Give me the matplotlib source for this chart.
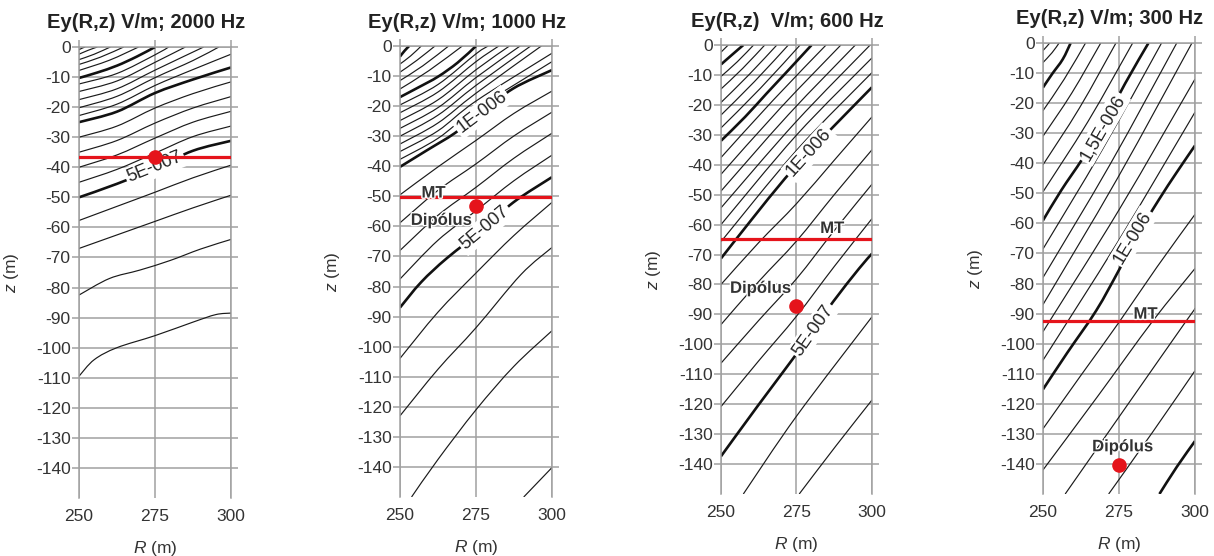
import numpy as np
import matplotlib
matplotlib.use("Agg")
import matplotlib.pyplot as plt
from matplotlib.path import Path
from matplotlib.patches import PathPatch
import matplotlib.patheffects as pe

plt.rcParams['font.family'] = ['Liberation Sans', 'DejaVu Sans']
plt.rcParams['mathtext.fontset'] = 'custom'
plt.rcParams['mathtext.it'] = 'Liberation Sans:italic'
plt.rcParams['mathtext.rm'] = 'Liberation Sans'
plt.rcParams['axes.unicode_minus'] = False

# --- adatok (leolvasva) ---
titles = ['Ey(R,z) V/m; 2000 Hz', 'Ey(R,z) V/m; 1000 Hz',
          'Ey(R,z)  V/m; 600 Hz', 'Ey(R,z) V/m; 300 Hz']
r_ticks = [250, 275, 300]
z_ticks = list(range(0, -150, -10))

# MT mélység és dipólus pont (R, z)
mt_depth = [-36.5, -50.2, -64.7, -92.6]
dipole = [(275, -36.5), (275, -53.3), (275, -87.2), (275, -140.4)]
mt_text = [None, (261, -48.9), (286.8, -61.3), (283.7, -90.2)]
dip_text = [None, (263.5, -58.0), (263.0, -81.3), (276.1, -134.3)]

# izovonalak: vékony és vastag vonalak pontjai (R, z)
thin_2000 = [
    [(250, -0.9), (251, -0.4), (252, 0)],
    [(250, -2.4), (253, -1.1), (256, 0)],
    [(250, -4.2), (255, -2.4), (260.3, 0)],
    [(250, -5.8), (257, -3.4), (264.7, 0)],
    [(250, -7.8), (260, -4.4), (269.6, 0)],
    [(250, -12.3), (262.5, -8.8), (275, -2.6), (279.5, 0)],
    [(250, -14.8), (262.5, -11.3), (275, -5.1), (285, 0)],
    [(250, -17.5), (262.5, -13.9), (275, -7.7), (291, 0)],
    [(250, -20.2), (262.5, -16.4), (275, -10.2), (287.5, -4.5), (296, 0)],
    [(250, -22.8), (262.5, -19.0), (275, -12.8), (287.5, -7.5), (300, -2.4)],
    [(250, -30.0), (262.5, -26.3), (275, -20.3), (287.5, -15.5), (300, -11.6)],
    [(250, -35.0), (262.5, -31.1), (275, -25.3), (287.5, -20.3), (300, -16.5)],
    [(250, -40.0), (262.5, -35.9), (275, -30.3), (287.5, -25.0), (300, -21.4)],
    [(250, -45.0), (262.5, -40.7), (275, -35.3), (287.5, -29.8), (300, -26.3)],
    [(250, -57.7), (262.5, -53.0), (275, -48.3), (287.5, -43.5), (300, -39.3)],
    [(250, -67.0), (262.5, -62.5), (275, -58.0), (287.5, -53.5), (300, -49.3)],
    [(250, -82.5), (260, -77.0), (270, -74.2), (280, -71), (290, -67.2), (300, -64.0)],
    [(250, -109.5), (255, -104.0), (262.5, -100.0), (275, -96.0),
     (287.5, -91.5), (295, -89.0), (300, -88.5)],
]
thick_2000 = [
    [(250, -10.3), (256, -8.5), (262.5, -6.2), (269, -3.2), (275, 0)],
    [(250, -25.0), (262.5, -21.5), (275, -15.3), (287.5, -10.8), (300, -6.8)],
    [(250, -50.0), (262.5, -45.5), (275, -40.3), (287.5, -34.5), (300, -31.2)],
]

thin_1000 = [
    [(250, -6.0), (253.5, -3.3), (257, 0)],
    [(250, -8.7), (255.5, -4.8), (261.5, 0)],
    [(250, -11.5), (257.5, -6.6), (266, 0)],
    [(250, -14.3), (259.5, -8.2), (270.5, 0)],
    [(250, -19.6), (262.5, -12.8), (275, -2.6), (279, 0)],
    [(250, -22.2), (262.5, -15.3), (275, -5.2), (282.5, 0)],
    [(250, -24.8), (262.5, -17.9), (275, -7.9), (286, 0)],
    [(250, -27.4), (262.5, -20.5), (275, -10.5), (289.5, 0)],
    [(250, -30.0), (262.5, -23.0), (275, -13.1), (293, 0)],
    [(250, -32.6), (262.5, -25.6), (275, -15.7), (296.5, 0)],
    [(250, -35.1), (262.5, -28.2), (275, -18.3), (300, -2.4)],
    [(250, -37.7), (262.5, -30.7), (275, -21.0), (300, -5.2)],
    [(250, -49.5), (262.5, -40.2), (275, -31.4), (287.5, -22.4), (300, -15.0)],
    [(250, -58.8), (262.5, -48.0), (275, -39.2), (287.5, -29.9), (300, -22.0)],
    [(250, -68.0), (262.5, -56.3), (275, -47.0), (287.5, -37.3), (300, -29.0)],
    [(250, -77.5), (262.5, -64.6), (275, -54.8), (287.5, -44.8), (300, -36.3)],
    [(250, -103.9), (262.5, -88.5), (275, -75.5), (287.5, -63.0), (300, -52.0)],
    [(250, -123.0), (262.5, -107.5), (275, -93.7), (289.8, -76.0), (300, -67.0)],
    [(253.8, -150), (262.5, -137.5), (275, -121.0), (287.5, -106.5), (300, -94.7)],
    [(290.7, -150), (300, -140.2)],
]
thick_1000 = [
    [(250, -3.5), (251.5, -1.6), (253, 0)],
    [(250, -17.0), (256, -13.8), (262.5, -10.2), (269, -5.5), (275, 0)],
    [(250, -40.2), (259, -34.6), (268, -29.0), (277, -22.0), (287.3, -14.1), (300, -8.0)],
    [(250, -87.0), (257, -78.5), (265.5, -70.5), (278, -60.5), (287.3, -52.0), (300, -43.6)],
]

thin_600 = [
    [(250, -2.4), (251.3, -1.1), (252.4, 0)],
    [(250, -10.5), (255.4, -5.6), (260.8, 0)],
    [(250, -14.7), (257.2, -7.8), (264.5, 0)],
    [(250, -19.2), (259.2, -10.0), (268.5, 0)],
    [(250, -23.4), (261.1, -12.2), (272.3, 0)],
    [(250, -27.7), (263.1, -14.4), (276.2, 0)],
    [(250, -37.6), (267.4, -18.3), (284.8, 0)],
    [(250, -43.2), (269.9, -20.8), (289.7, 0)],
    [(250, -48.8), (272.3, -23.3), (294.5, 0)],
    [(250, -54.4), (274.7, -25.8), (299.4, 0)],
    [(250, -60.0), (275, -30.1), (300, -4.3)],
    [(250, -65.7), (275, -35.2), (300, -9.2)],
    [(250, -80.0), (262.5, -66.0), (275, -53.0), (287.5, -38.5), (300, -24.0)],
    [(250, -93.4), (262.5, -79.0), (275, -65.5), (287.5, -50.0), (300, -35.0)],
    [(250, -106.3), (262.5, -92.0), (275, -78.1), (287.5, -62.0), (300, -46.5)],
    [(250, -120.8), (262.5, -105.5), (275, -90.6), (287.5, -74.0), (300, -58.0)],
    [(257.4, -150), (275, -124.0), (300, -90.8)],
    [(275.9, -150), (288, -134.0), (300, -118.6)],
]
thick_600 = [
    [(250, -6.5), (253.5, -3.4), (257.4, 0)],
    [(250, -32.0), (258, -24.0), (265, -16.3), (272.5, -8.2), (280, 0)],
    [(250, -71.3), (260, -58.5), (271.1, -44.7), (279.4, -35.5), (287.1, -27.4), (300, -14.1)],
    [(250, -137.4), (262, -120.8), (273.9, -104.7), (280.5, -95.3),
     (287.1, -85.8), (295.7, -74.7), (300, -69.7)],
]

thin_300 = [
    [(250, -2.5), (251.2, -1.2), (252.2, 0)],
    [(250, -6.5), (253, -3.2), (255.3, 0)],
    [(250, -22.5), (257, -12.0), (264, 0)],
    [(250, -31.0), (259.5, -16.6), (269, 0)],
    [(250, -40.5), (262, -21.6), (274, 0)],
    [(250, -49.5), (264.75, -26.2), (279.5, 0)],
    [(250, -68.5), (269.5, -35.5), (289, 0)],
    [(250, -78.0), (272, -40.5), (294, 0)],
    [(250, -87.0), (274.5, -45.0), (299, 0)],
    [(250, -96.0), (275, -55.5), (300, -12.0)],
    [(250, -105.5), (275, -65.5), (300, -23.0)],
    [(250, -128.3), (262.5, -110.5), (275.2, -92.6), (287.5, -74.5), (300, -57.0)],
    [(250, -142.0), (268, -117.5), (286, -92.6), (300, -75.0)],
    [(257.3, -150), (277, -121.5), (297, -92.6), (300, -88.5)],
    [(271.6, -150), (286, -129.5), (300, -109.0)],
]
thick_300 = [
    [(250, -14.8), (253, -10.3), (256.5, -5.4), (259.1, 0)],
    [(250, -59.0), (256, -49.0), (263, -38.5), (270, -27.0), (277, -13.5), (284.7, 0)],
    [(250, -115.2), (258, -103.0), (267.5, -89.0), (275, -75.5), (281, -64.0),
     (288, -52.3), (294, -43.0), (300, -34.1)],
    [(288.3, -150), (294, -141.0), (300, -132.4)],
]

# izovonal feliratok: (szöveg, R, z, szög)
labels_2000 = [('5E-007', 275, -40.0, 22)]
labels_1000 = [('1E-006', 277, -22.0, 37), ('5E-007', 278, -60.5, 40)]
labels_600 = [('1E-006', 279.2, -36.0, 48), ('5E-007', 280.5, -95.3, 55)]
labels_300 = [('1,5E-006', 269.6, -28.2, 60), ('1E-006', 279.6, -64.7, 59)]

thin_all = [thin_2000, thin_1000, thin_600, thin_300]
thick_all = [thick_2000, thick_1000, thick_600, thick_300]
labels_all = [labels_2000, labels_1000, labels_600, labels_300]

# axes helyek pixelben: bal, jobb, felső, alsó
W, H = 1214, 556
boxes = [(79, 231, 47, 498), (400, 552, 46, 497), (721, 872, 45, 494), (1043, 1195, 43, 494)]


def smooth(pts):
    # Catmull-Rom -> Bezier, hogy a vonal sima legyen a pontokon át
    p = np.asarray(pts, float)
    if len(p) == 2:
        return Path(p)
    verts = [p[0]]
    codes = [Path.MOVETO]
    n = len(p)
    for i in range(n - 1):
        p0 = p[i - 1] if i > 0 else p[i]
        p3 = p[i + 2] if i + 2 < n else p[i + 1]
        c1 = p[i] + (p[i + 1] - p0) / 6
        c2 = p[i + 1] - (p3 - p[i]) / 6
        verts += [c1, c2, p[i + 1]]
        codes += [Path.CURVE4] * 3
    return Path(verts, codes)


fig = plt.figure(figsize=(W / 100, H / 100), dpi=100)
grid_c = '#a0a0a0'
txt_c = '#333333'

for k in range(4):
    l, r, t, b = boxes[k]
    w, h = r - l, b - t
    ax = fig.add_axes([l / W, 1 - b / H, w / W, h / H])
    ax.set_xlim(250, 300)
    ax.set_ylim(-150, 0)
    ax.set_xticks(r_ticks)
    ax.set_yticks(z_ticks)
    ax.grid(True, color=grid_c, lw=1.1)
    for s in ['left', 'right', 'top']:
        ax.spines[s].set_color(grid_c)
        ax.spines[s].set_linewidth(1.1)
    ax.spines['bottom'].set_visible(False)
    ax.tick_params(axis='y', left=True, right=True, direction='out', length=5,
                   color=grid_c, width=1.1, labelsize=12.5, labelcolor=txt_c, pad=1)
    ax.tick_params(axis='x', bottom=False, top=True, direction='out', length=5,
                   color=grid_c, width=1.1, labelsize=12.5, labelcolor=txt_c, pad=3)
    ax.set_xlabel('$R$ (m)', fontsize=12.5, color=txt_c)
    ax.set_ylabel('$z$ (m)', fontsize=12.5, color=txt_c)
    ax.xaxis.set_label_coords(0.5, -41 / h)
    ax.yaxis.set_label_coords(-58 / w, 0.5)

    for line in thin_all[k]:
        ax.add_patch(PathPatch(smooth(line), fill=False, ec='#1a1a1a', lw=0.85, zorder=2))
    for line in thick_all[k]:
        ax.add_patch(PathPatch(smooth(line), fill=False, ec='#111111', lw=1.9, zorder=2))
    for txt, rr, zz, ang in labels_all[k]:
        ax.text(rr, zz, txt, rotation=ang, rotation_mode='anchor', ha='center', va='center',
                fontsize=13, color='#222222', zorder=3,
                bbox=dict(boxstyle='square,pad=0.12', fc='white', ec='none'))

    ax.axhline(mt_depth[k], color='#e5141b', lw=2.3, zorder=4)
    ax.plot(*dipole[k], 'o', color='#e5141b', ms=9.5, zorder=5)
    halo = [pe.withStroke(linewidth=2, foreground='white')]
    if mt_text[k]:
        ax.text(*mt_text[k], 'MT', ha='center', va='center', fontsize=12,
                fontweight='bold', color=txt_c, zorder=6, path_effects=halo)
    if dip_text[k]:
        ax.text(*dip_text[k], 'Dipólus', ha='center', va='center', fontsize=12,
                fontweight='bold', color=txt_c, zorder=6, path_effects=halo)

    ax.text(0.5 - 9 / w, 1 + 24 / h, titles[k], transform=ax.transAxes,
            ha='center', va='center', fontsize=14.5, fontweight='bold', color='#222222')

fig.savefig('out.png', dpi=100)
